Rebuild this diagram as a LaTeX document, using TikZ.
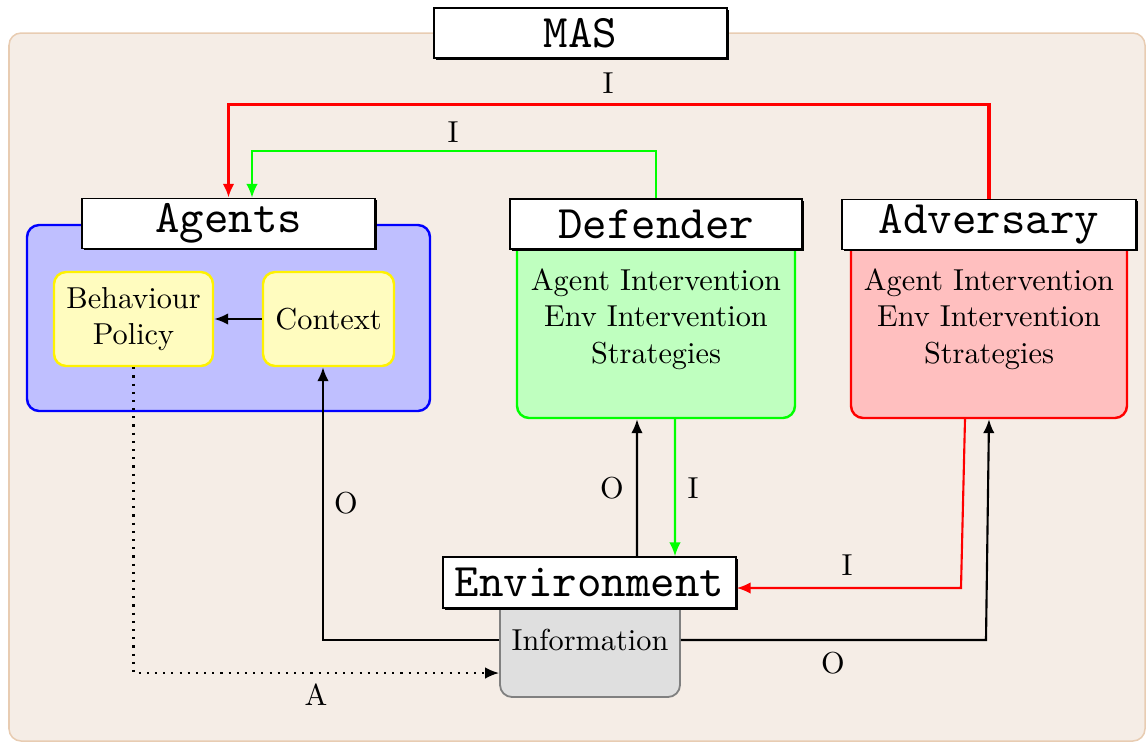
\documentclass[tikz,border=0pt]{standalone}
\usepackage{fontspec}
\newfontfamily\titlefont{lmmono10-regular.otf}
\usetikzlibrary{shadows,arrows.meta,calc}
\definecolor{framefill}{RGB}{245,237,230}
\definecolor{frameline}{RGB}{232,204,178}
\begin{document}
\begin{tikzpicture}[x=0.33pt,y=-0.33pt,
  titlebox/.style={draw=black, fill=white, line width=0.45pt, inner sep=0pt,
    font=\fontsize{15.4}{18}\selectfont\titlefont,
    minimum width=293*0.33pt, minimum height=50*0.33pt,
    drop shadow={shadow xshift=0.65pt, shadow yshift=-0.65pt, opacity=1, fill=black}},
  panel/.style={rounded corners=4pt, line width=0.8pt, inner sep=0pt, align=center, font=\normalsize},
  conn/.style={line width=0.7pt, -{Latex[length=4.6pt,width=3.8pt]}},
  lbl/.style={inner sep=0pt, font=\normalsize}]
\useasboundingbox (0,0) rectangle (1147,742);

% system frame
\node[panel, draw=frameline, fill=framefill, line width=0.5pt,
      minimum width=1136*0.33pt, minimum height=708*0.33pt] (bg) at (577,387) {};
\node[titlebox] (mas) at (580.5,33) {MAS};

% agents
\node[panel, draw=blue, fill=blue!25, minimum width=403*0.33pt, minimum height=186*0.33pt] (agbox) at (228.5,318) {};
\node[panel, draw=yellow, fill=yellow!25, minimum width=159*0.33pt, minimum height=94*0.33pt] (beh) at (133.5,319) {Behaviour\\Policy};
\node[panel, draw=yellow, fill=yellow!25, minimum width=131*0.33pt, minimum height=94*0.33pt] (ctx) at (328.5,319) {Context};
\node[titlebox] (agt) at (228.5,223.5) {Agents};

% defender
\node[panel, draw=green, fill=green!25, minimum width=278*0.33pt, minimum height=193*0.33pt] (defbox) at (656,321.5) {};
\node[lbl, align=center] (deftxt) at (656,319) {Agent Intervention\\Env Intervention\\Strategies};
\node[titlebox, minimum width=292*0.33pt] (deft) at (656,224) {Defender};

% adversary
\node[panel, draw=red, fill=red!25, minimum width=276*0.33pt, minimum height=193*0.33pt] (advbox) at (989,321.5) {};
\node[lbl, align=center] (advtxt) at (989,319) {Agent Intervention\\Env Intervention\\Strategies};
\node[titlebox, minimum width=294*0.33pt] (advt) at (989,224.5) {Adversary};

% environment
\node[panel, draw=gray, fill=gray!25, line width=0.6pt, minimum width=180*0.33pt, minimum height=112*0.33pt] (info) at (590,641) {};
\node[lbl] (infotxt) at (590,640) {Information};
\node[titlebox, minimum height=51*0.33pt] (envt) at (589.5,582.5) {Environment};

% interventions towards the agents
\draw[conn, red, line width=1.05pt] (advt.north) -- ++(0,-94) -| (agt.north);
\draw[conn, green] (deft.north) -- ++(0,-47) -| ($(agt.north)+(23.5,0)$);
\node[lbl] (lIadv) at (608,83) {I};
\node[lbl] (lIdef) at (453,132) {I};

% inside the agents
\draw[conn] (ctx.west) -- (beh.east);

% actions and observations
\draw[conn, dotted] (beh.south) |- (info.west |- 0,673);
\node[lbl] (lA) at (316,695) {A};
\draw[conn] (info.west |- 0,640) -| ($(ctx.south)+(-5.5,0)$);
\node[lbl] (lOag) at (346,503) {O};

% defender loop
\draw[conn] ($(envt.north)+(47.5,0)$) -- ($(defbox.south)+(-19,0)$);
\draw[conn, green] ($(defbox.south)+(19,0)$) -- ($(envt.north)+(85.5,0)$);
\node[lbl] (lOdef) at (612,488) {O};
\node[lbl] (lIdef2) at (693,488) {I};

% adversary loop
\coordinate (advbend) at (961,588);
\draw[conn, red] ($(advbox.south)+(-24,0)$) -- (advbend) -- ($(envt.east)+(0,5.5)$);
\node[lbl] (lIadv2) at (847,565) {I};
\coordinate (obsbend) at (986,640);
\draw[conn] (info.east |- 0,640) -- (obsbend) -- (advbox.south);
\node[lbl] (lOadv) at (833,663) {O};
\end{tikzpicture}
\end{document}
